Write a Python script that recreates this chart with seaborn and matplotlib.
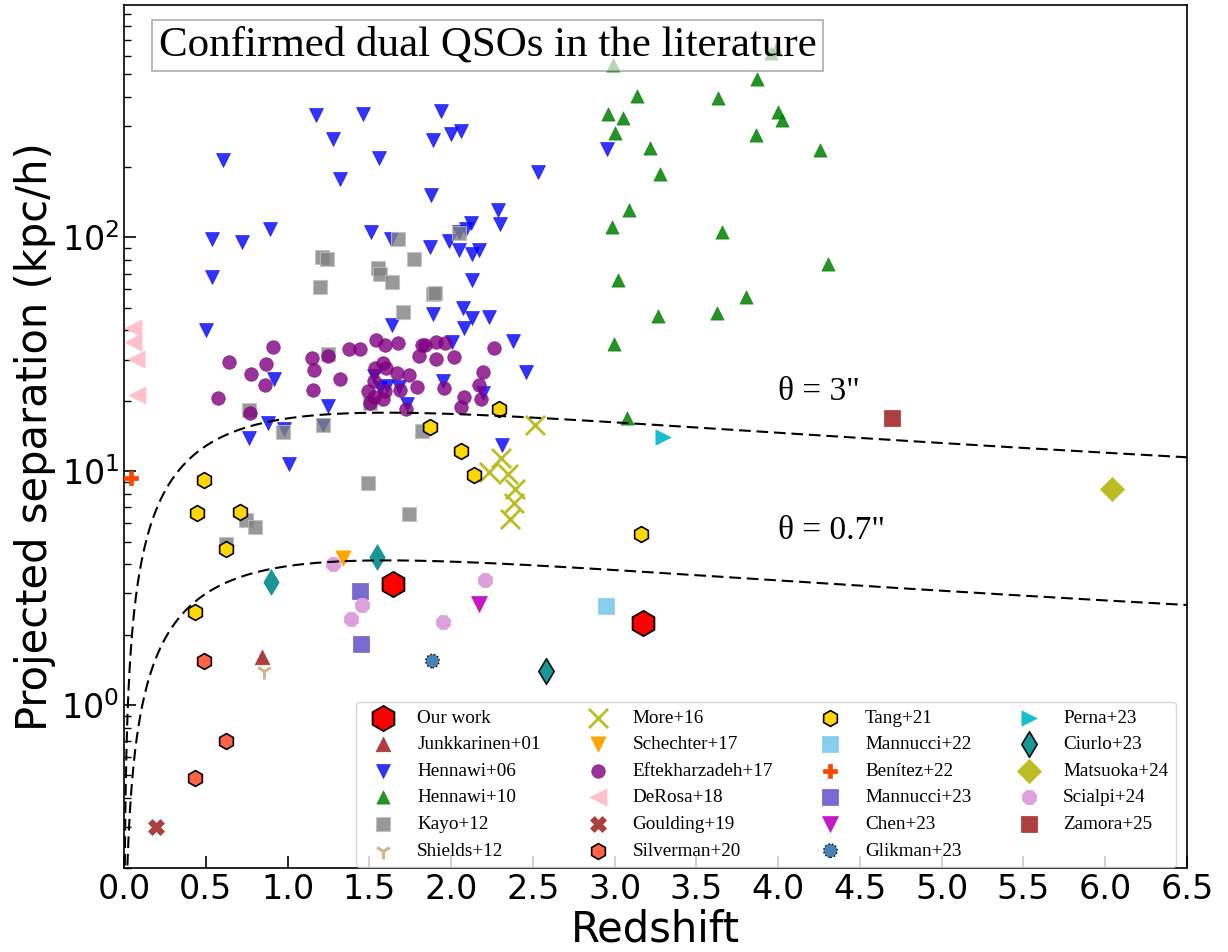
import numpy as np
import pandas as pd
import matplotlib
matplotlib.use("Agg")
import matplotlib.pyplot as plt
import seaborn as sns

sns.set_style("ticks")
plt.rcParams["font.family"] = ["DejaVu Sans"]
plt.rcParams.update({
    "text.color": "black",
    "axes.labelcolor": "black",
    "xtick.color": "black",
    "ytick.color": "black",
    "axes.edgecolor": "black",
})

SERIF = "Liberation Serif"

# ---------------- data: redshift / projected separation (kpc/h) ----------------
our_z = [1.645, 3.174]
our_sep = [3.29, 2.24]

junk_z = [0.846]
junk_sep = [1.60]

henn06_z = [1.172, 1.462, 1.278, 0.607, 1.560, 1.321, 0.891, 0.540, 0.720, 1.509,
            1.631, 0.540, 1.941, 1.888, 1.998, 2.059, 2.952, 2.530, 1.880, 2.289,
            2.300, 2.121, 2.092, 2.051, 1.870, 1.988, 2.051, 2.128, 2.171, 2.128,
            2.072, 1.890, 2.130, 2.231, 0.500, 1.641, 0.917, 0.765, 0.881, 0.979,
            1.250, 1.217, 1.009, 1.529, 1.609, 1.682, 1.729, 2.080, 2.004, 2.381,
            2.459, 1.949, 2.194, 2.310, 1.566]
henn06_sep = [334, 337, 265, 215, 218, 178, 109, 98.9, 96.0, 105.6,
              98.2, 67.7, 348, 262, 277, 286, 239, 191, 152, 131,
              114, 115, 109, 105.6, 91.4, 96.6, 88.2, 85.3, 88.4, 65.8,
              50.1, 46.9, 45.1, 45.5, 40.2, 42.1, 24.7, 13.8, 16.1, 15.1,
              19.0, 15.8, 10.7, 25.5, 23.1, 23.0, 19.3, 41.1, 35.8, 35.9,
              26.5, 24.3, 21.6, 13.0, 22.8]

henn10_z = [2.993, 3.957, 3.988, 3.873, 3.136, 3.631, 2.960, 3.054, 3.998, 4.024,
            3.005, 3.864, 3.217, 4.257, 3.276, 3.087, 2.983, 3.659, 4.304, 3.021,
            3.806, 3.264, 3.623, 2.999, 3.076]
henn10_sep = [547, 615, 640, 476, 404, 396, 339, 323, 343, 319,
              279, 274, 241, 236, 186, 131, 111, 105, 77.0, 65.8,
              55.8, 46.1, 47.7, 34.9, 16.9]

kayo_z = [1.213, 1.243, 1.676, 1.774, 1.554, 1.566, 1.641, 1.199, 1.708, 2.051,
          1.888, 1.902, 1.248, 0.765, 0.974, 1.217, 1.505, 1.824, 1.494, 1.743,
          0.744, 0.799, 0.624]
kayo_sep = [82.8, 81.2, 98.9, 80.7, 74.3, 69.5, 64.5, 61.4, 48.1, 104,
            57.1, 58.1, 31.6, 18.3, 14.7, 15.8, 19.6, 14.8, 8.91, 6.56,
            6.20, 5.77, 4.90]

shields_z = [0.856]
shields_sep = [1.39]

more_z = [2.514, 2.306, 2.232, 2.349, 2.391, 2.382, 2.361]
more_sep = [15.7, 11.4, 9.91, 9.77, 8.42, 7.33, 6.26]

schechter_z = [1.339]
schechter_sep = [4.25]

eftek_z = [0.911, 0.642, 0.870, 0.779, 0.864, 0.575, 0.769, 1.152, 1.248, 1.162,
           1.154, 1.323, 1.376, 1.445, 1.543, 1.594, 1.676, 1.821, 1.804, 1.533,
           1.586, 1.601, 1.668, 1.745, 1.529, 1.494, 1.594, 1.688, 1.794, 1.529,
           1.586, 1.505, 1.723, 1.841, 1.908, 1.963, 1.906, 2.018, 2.263, 1.957,
           2.194, 2.173, 2.081, 2.182, 2.063]
eftek_sep = [34.0, 29.3, 28.8, 26.1, 23.3, 20.5, 17.8, 30.4, 31.1, 27.0,
             22.2, 24.9, 33.2, 33.4, 36.3, 34.6, 35.5, 34.5, 31.1, 27.5,
             29.1, 27.7, 26.2, 25.7, 24.3, 22.0, 22.0, 22.2, 23.0, 20.7,
             20.3, 19.5, 18.4, 34.6, 35.7, 35.5, 30.1, 30.9, 33.8, 22.7,
             26.5, 23.4, 20.8, 20.3, 18.8]

derosa_z = [0.057, 0.057, 0.072, 0.078]
derosa_sep = [41.1, 35.8, 30.3, 21.1]

goulding_z = [0.198]
goulding_sep = [0.300]

silverman_z = [0.489, 0.626, 0.432]
silverman_sep = [1.54, 0.699, 0.488]

tang_z = [0.489, 0.445, 0.708, 0.626, 0.432, 2.292, 1.872, 2.061, 2.141, 3.160]
tang_sep = [9.20, 6.63, 6.67, 4.65, 2.50, 18.4, 15.4, 12.2, 9.62, 5.39]

mannucci22_z = [2.948]
mannucci22_sep = [2.66]

benitez_z = [0.041]
benitez_sep = [9.36]

mannucci23_z = [1.442, 1.451]
mannucci23_sep = [3.08, 1.82]

chen_z = [2.171]
chen_sep = [2.70]

glikman_z = [1.886]
glikman_sep = [1.54]

perna_z = [3.295]
perna_sep = [14.0]

ciurlo_extra_z = [0.897, 1.549]
ciurlo_extra_sep = [3.35, 4.28]
ciurlo_z = [2.579]
ciurlo_sep = [1.40]

matsuoka_z = [6.043]
matsuoka_sep = [8.42]

scialpi_z = [1.278, 1.454, 1.387, 2.208, 1.949]
scialpi_sep = [4.01, 2.68, 2.34, 3.43, 2.27]

zamora_z = [4.697]
zamora_sep = [16.9]

xticks = [0.0, 0.5, 1.0, 1.5, 2.0, 2.5, 3.0, 3.5, 4.0, 4.5, 5.0, 5.5, 6.0, 6.5]
theta_arcsec = [3.0, 0.7]

# ---------------- figure ----------------
fig = plt.figure(figsize=(12.28, 9.52), dpi=100)
ax = fig.add_axes([0.101, 0.088, 0.8656, 0.907])


def pts(x, y, label, **kw):
    df = pd.DataFrame({"z": x, "sep": y})
    sns.scatterplot(data=df, x="z", y="sep", ax=ax, label=label, **kw)


pts(our_z, our_sep, "Our work", marker="h", color="red", s=330,
    edgecolor="black", linewidth=1.3, zorder=10)
pts(junk_z, junk_sep, "Junkkarinen+01", marker="^", color="brown", s=110,
    edgecolor="brown", linewidth=0.5, alpha=0.9, zorder=4)
pts(henn06_z, henn06_sep, "Hennawi+06", marker="v", color="blue", s=100,
    edgecolor="blue", linewidth=0.5, alpha=0.8, zorder=3)
pts(henn10_z, henn10_sep, "Hennawi+10", marker="^", color="green", s=90,
    edgecolor="green", linewidth=0.5, alpha=0.85, zorder=3)
pts(kayo_z, kayo_sep, "Kayo+12", marker="s", color="gray", s=100,
    edgecolor="silver", linewidth=0.8, alpha=0.8, zorder=3)
pts(shields_z, shields_sep, "Shields+12", marker="1", color="tan", s=130,
    linewidth=2.2, zorder=4)
pts(more_z, more_sep, "More+16", marker="x", color="tab:olive", s=190,
    linewidth=2.0, zorder=4)
pts(schechter_z, schechter_sep, "Schechter+17", marker="v", color="orange", s=120,
    edgecolor="orange", linewidth=0.5, zorder=4)
pts(eftek_z, eftek_sep, "Eftekharzadeh+17", marker="o", color="purple", s=95,
    edgecolor="purple", linewidth=0.5, alpha=0.8, zorder=3)
pts(derosa_z, derosa_sep, "DeRosa+18", marker="<", color="pink", s=150,
    edgecolor="pink", linewidth=0.5, zorder=4)
pts(goulding_z, goulding_sep, "Goulding+19", marker="X", color="brown", s=130,
    edgecolor="brown", linewidth=0.5, alpha=0.9, zorder=4)
pts(silverman_z, silverman_sep, "Silverman+20", marker="h", color="tomato", s=130,
    edgecolor="black", linewidth=1.2, zorder=5)
pts(tang_z, tang_sep, "Tang+21", marker="h", color="gold", s=130,
    edgecolor="black", linewidth=1.2, zorder=5)
pts(mannucci22_z, mannucci22_sep, "Mannucci+22", marker="s", color="skyblue", s=130,
    edgecolor="skyblue", linewidth=0.5, zorder=4)
pts(benitez_z, benitez_sep, "Benítez+22", marker="P", color="orangered", s=110,
    edgecolor="orangered", linewidth=0.5, zorder=4)
pts(mannucci23_z, mannucci23_sep, "Mannucci+23", marker="s", color="slateblue", s=130,
    edgecolor="slateblue", linewidth=0.5, alpha=0.9, zorder=4)
pts(chen_z, chen_sep, "Chen+23", marker="v", color="m", s=130,
    edgecolor="m", linewidth=0.5, alpha=0.9, zorder=4)
pts(glikman_z, glikman_sep, "Glikman+23", marker="o", color="steelblue", s=95,
    edgecolor="black", linewidth=1.0, linestyle=":", zorder=4)
pts(perna_z, perna_sep, "Perna+23", marker=">", color="tab:cyan", s=120,
    edgecolor="tab:cyan", linewidth=0.5, zorder=4)
sns.scatterplot(x=ciurlo_extra_z, y=ciurlo_extra_sep, ax=ax, marker="d",
                color="darkcyan", s=170, edgecolor="darkcyan", linewidth=0.5,
                alpha=0.9, zorder=4)
pts(ciurlo_z, ciurlo_sep, "Ciurlo+23", marker="d", color="darkcyan", s=170,
    edgecolor="black", linewidth=1.2, alpha=0.9, zorder=4)
pts(matsuoka_z, matsuoka_sep, "Matsuoka+24", marker="D", color="tab:olive", s=150,
    edgecolor="tab:olive", linewidth=0.5, zorder=4)
pts(scialpi_z, scialpi_sep, "Scialpi+24", marker="8", color="plum", s=120,
    edgecolor="plum", linewidth=0.5, zorder=4)
pts(zamora_z, zamora_sep, "Zamora+25", marker="s", color="brown", s=120,
    edgecolor="brown", linewidth=0.5, alpha=0.9, zorder=4)

# ---------------- constant angular separation curves ----------------
# flat LCDM, Om = 0.3; distances in Mpc/h
zz = np.linspace(0.0, 6.6, 4000)
inv_E = 1.0 / np.sqrt(0.3 * (1 + zz) ** 3 + 0.7)
dc = 2997.92458 * np.concatenate([[0.0], np.cumsum(0.5 * (inv_E[1:] + inv_E[:-1]) * np.diff(zz))])
da = dc / (1 + zz)
for th in theta_arcsec:
    sep_curve = da * 1000.0 * np.deg2rad(th / 3600.0)
    ax.plot(zz[1:], sep_curve[1:], color="black", lw=1.5, zorder=6,
            linestyle=(0, (5.6, 2.8)))

ax.text(4.0, 21.9, 'θ = 3"', fontfamily=SERIF, fontsize=24, va="center", ha="left")
ax.text(4.0, 5.57, 'θ = 0.7"', fontfamily=SERIF, fontsize=24, va="center", ha="left")

# ---------------- axes ----------------
ax.set_yscale("log")
ax.set_xlim(0.0, 6.5)
ax.set_ylim(0.2, 990)
ax.set_xticks(xticks)
ax.set_xticklabels([f"{t:.1f}" for t in xticks])
ax.tick_params(axis="both", which="major", direction="in", length=8.5, width=1.2,
               labelsize=24, top=False, right=False)
ax.tick_params(axis="both", which="minor", direction="in", length=5, width=1.0,
               top=False, right=False)
ax.tick_params(axis="x", which="minor", bottom=False)
for sp in ax.spines.values():
    sp.set_linewidth(1.2)
    sp.set_color("black")
ax.set_xlabel("Redshift", fontsize=30, labelpad=2)
ax.set_ylabel("Projected separation (kpc/h)", fontsize=30, labelpad=4)

ax.text(0.342, 0.9527, "Confirmed dual QSOs in the literature", transform=ax.transAxes,
        fontfamily=SERIF, fontsize=31, ha="center", va="center", zorder=20,
        bbox=dict(boxstyle="square,pad=0.15", facecolor="white", edgecolor="gray",
                  linewidth=1.2, alpha=0.65))

leg = ax.legend(loc="lower right", bbox_to_anchor=(0.9897, 0.001), borderaxespad=0,
                ncol=4, prop={"family": SERIF, "size": 13.8}, labelspacing=0.48,
                frameon=True, framealpha=0.8, edgecolor="0.8")
leg.set_zorder(30)

fig.savefig("out.png", dpi=100)
